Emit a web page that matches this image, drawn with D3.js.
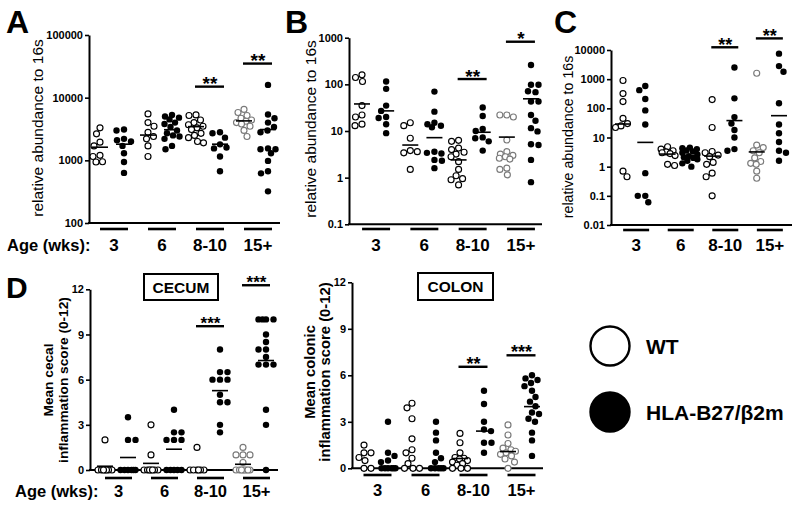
<!DOCTYPE html>
<html><head><meta charset="utf-8">
<script src="https://cdn.jsdelivr.net/npm/d3@7"></script>
<style>
body{margin:0;background:#fff}
svg{display:block}
text{font-family:"Liberation Sans",Arial,Helvetica,sans-serif;fill:#000}
</style>
</head><body>
<svg id="chart" width="800" height="508"></svg>
<script>
// ---------------- DATA ----------------
const groups = ["3", "6", "8-10", "15+"];
const legendLabels = ["WT", "HLA-B27/β2m"];

// Panel A (relative abundance to 16s, log)
const aTicks = [100, 1000, 10000, 100000];
const aWT = [
  [3300, 2650, 1950, 1700, 1200, 1150, 950, 940],
  [5500, 4000, 3500, 2800, 2400, 2200, 1700, 1150],
  [5300, 5200, 4400, 4000, 3700, 3500, 3300, 3100, 2700, 2500, 2300, 2000, 1900],
  [6500, 5800, 5200, 4700, 4400, 4200, 4000, 3800, 3500, 3000, 2400]
];
const aHLA = [
  [3100, 3000, 2200, 2100, 2000, 1700, 1300, 940, 630],
  [5300, 5000, 4800, 4500, 4000, 3800, 3400, 3000, 2700, 2500, 2400, 2200, 1700, 1500],
  [2800, 2700, 2300, 1800, 1600, 1550, 1150, 670],
  [16000, 5400, 4700, 4000, 3400, 3000, 2800, 1550, 1500, 1500, 1300, 980, 670, 620, 320]
];
const aWTLine = [1620, 2530, 3450, 4260];
const aHLALine = [1810, 3080, 1810, 3100];
const aSig = ["", "", "**", "**"];
const aSigVal = [null, null, 15000, 35000];

// Panel B
const bTicks = [0.1, 1, 10, 100, 1000];
const bWT = [
  [160, 140, 115, 35, 22, 20, 14, 13],
  [15, 13, 7, 3.8, 3.6, 3.4, 1.5],
  [6.3, 6.0, 4.3, 4.0, 3.5, 3.2, 2.8, 2.2, 1.5, 1.1, 0.95, 0.9, 0.7],
  [22, 20, 22, 6.4, 3.6, 3.2, 3.0, 2.8, 2.6, 2.5, 1.6, 1.5, 1.15]
];
const bHLA = [
  [115, 80, 35, 27, 20, 19, 14, 9],
  [70, 26, 15, 14, 13, 12, 3.6, 3.4, 3.3, 2.4, 2.3, 1.6],
  [32, 21, 11, 10, 7.3, 7, 6, 3.8],
  [260, 98, 98, 71, 68, 43, 43, 22, 16.6, 11.5, 9.8, 5.2, 5.0, 2.4, 0.8]
];
const bWTLine = [38, 5.0, 2.4, 7.4];
const bHLALine = [27, 7.2, 9.4, 49];
const bSig = ["", "", "**", "*"];
const bSigVal = [null, null, 130, 820];

// Panel C
const cTicks = [0.01, 0.1, 1, 10, 100, 1000, 10000];
const cWT = [
  [900, 320, 170, 45, 30, 25, 22, 0.7, 0.45],
  [4.8, 4.0, 3.5, 3.2, 3.0, 2.8, 2.4, 1.2, 1.1],
  [200, 22, 3.3, 3.0, 2.5, 2.2, 1.4, 1.2, 0.6, 0.45, 0.1],
  [1600, 5.5, 4.5, 3.5, 3.0, 2.0, 1.5, 1.3, 1.2, 0.7, 0.4]
];
const cHLA = [
  [580, 420, 210, 85, 28, 0.6, 0.1, 0.1, 0.06],
  [4.5, 4.3, 4.0, 3.6, 3.3, 3.0, 2.6, 2.3, 2.1, 2.0, 1.8, 1.6, 1.3, 1.0],
  [2500, 220, 50, 30, 18, 10, 4, 3.5],
  [7500, 2800, 1800, 150, 28, 14, 7, 3.5, 3.0, 1.6]
];
const cWTLine = [29, 2.7, 2.3, 3.2];
const cHLALine = [6.8, 2.3, 38, 56];
const cSig = ["", "", "**", "**"];
const cSigVal = [null, null, 12400, 25000];

// Panel D - cecum
const dTicks = [0, 3, 6, 9, 12];
const ceWT = [
  [2, 0, 0, 0, 0, 0, 0, 0],
  [3, 1, 0, 0, 0, 0, 0, 0, 0],
  [1.5, 0, 0, 0, 0, 0, 0],
  [1.5, 1, 1, 1, 0.5, 0, 0, 0, 0, 0, 0, 0, 0]
];
const ceHLA = [
  [3.5, 2, 2, 0, 0, 0, 0, 0, 0],
  [4, 2.5, 2.5, 2, 2, 2, 0, 0, 0, 0, 0],
  [8, 6.5, 6.5, 6, 6, 6, 5, 4.5, 4.5, 3, 2.5],
  [10, 10, 10, 10, 9, 8.5, 8, 8, 7.5, 7, 7, 7, 4, 3, 0]
];
const ceWTLine = [0.25, 0.44, null, 0.38];
const ceHLALine = [0.83, 1.38, 5.27, 7.27];
const ceSig = ["", "", "***", "***"];
const ceSigVal = [null, null, 9.55, 12.27];

// Panel D - colon
const coWT = [
  [1.5, 1, 1, 0.7, 0.5, 0, 0],
  [4.2, 3.9, 3.2, 1.9, 1.2, 1.0, 0.65, 0.3, 0, 0, 0],
  [2.25, 1.65, 1.0, 0.7, 0.65, 0.6, 0.5, 0.4, 0.3, 0.2, 0, 0, 0],
  [2.8, 2.15, 1.6, 1.3, 1.2, 1.1, 1.0, 0.9, 0.8, 0.6, 0.4, 0]
];
const coHLA = [
  [3, 1, 0.8, 0.5, 0.4, 0, 0, 0, 0, 0, 0],
  [3, 2.3, 1.8, 1.0, 0.65, 0.4, 0, 0, 0, 0, 0],
  [5, 4.15, 3, 2.5, 2.4, 1.65, 1.65, 1.0],
  [6, 5.8, 5.7, 5.5, 5.3, 5.0, 4.6, 4.3, 4.0, 3.6, 3.5, 3.2, 3.0, 2.3, 1.8, 0.8]
];
const coWTLine = [null, null, 0.63, 1.08];
const coHLALine = [null, null, 2.4, 3.98];
const coSig = ["", "", "**", "***"];
const coSigVal = [null, null, 6.55, 7.29];

// ---------------- DRAWING ----------------
const svg = d3.select("#chart");
const FONT = '"Liberation Sans",Arial,Helvetica,sans-serif';

function swarm(vals, y, r, W) {
  const pts = vals.map(v => ({v, py: y(v)})).sort((a, b) => a.py - b.py);
  const placed = [];
  const d = 2 * r + 0.7;
  pts.forEach((p, i) => {
    const sgn = i % 2 ? -1 : 1;
    const cands = [0];
    for (let s = 0.5; s <= W; s += 0.5) cands.push(sgn * s, -sgn * s);
    let bestX = 0, best = -Infinity;
    for (const x of cands) {
      let minD = Infinity;
      for (const q of placed) {
        const dd = Math.hypot(x - q.x, p.py - q.py);
        if (dd < minD) minD = dd;
      }
      if (minD >= d) { bestX = x; best = Infinity; break; }
      if (minD > best + 0.01) { best = minD; bestX = x; }
    }
    p.x = bestX;
    placed.push(p);
  });
  return pts;
}

function drawPanel(c) {
  const g = svg.append("g");
  const cats = [];
  groups.forEach(gr => { cats.push("WT" + gr); cats.push("HLA" + gr); });
  const x = d3.scalePoint().domain(cats).range([c.xFirst, c.xLast]);
  const y = c.y;
  const y0 = y.range()[0];

  // y axis
  const ax = g.append("g").attr("transform", `translate(${c.axisX0},0)`)
    .call(d3.axisLeft(y).tickValues(c.ticks).tickFormat(c.fmt || (d => String(d))).tickSize(4).tickSizeOuter(0).tickPadding(2));
  ax.select(".domain").attr("stroke", "#000").attr("stroke-width", 2);
  ax.selectAll(".tick line").attr("stroke", "#000").attr("stroke-width", 1.6);
  ax.selectAll(".tick text").attr("font-family", FONT).attr("font-size", 11)
    .attr("font-weight", "bold").attr("fill", "#000");

  // x axis line
  g.append("line").attr("x1", c.axisX0 - 1).attr("x2", c.axisX1)
    .attr("y1", y0).attr("y2", y0).attr("stroke", "#000").attr("stroke-width", 2);

  groups.forEach((gr, i) => {
    const xw = x("WT" + gr), xh = x("HLA" + gr);
    const mid = (xw + xh) / 2 + c.uOff;
    g.append("line").attr("x1", mid - c.uHalf).attr("x2", mid + c.uHalf)
      .attr("y1", c.underY).attr("y2", c.underY).attr("stroke", "#000").attr("stroke-width", 2.6);
    g.append("text").attr("x", mid).attr("y", c.labelY).attr("text-anchor", "middle")
      .attr("font-size", c.labelSize).attr("font-weight", "bold").text(gr);
    if (c.sig[i]) {
      const sy = y(c.sigVal[i]);
      g.append("line").attr("x1", mid - c.uHalf - 1).attr("x2", mid + c.uHalf)
        .attr("y1", sy).attr("y2", sy).attr("stroke", "#000").attr("stroke-width", 2.4);
      g.append("text").attr("x", mid).attr("y", sy + c.sigDy).attr("text-anchor", "middle")
        .attr("font-size", c.sigSize).attr("font-weight", "bold").attr("fill", c.sigColor || "#000").text(c.sig[i]);
    }
    const gray = i === 3;
    const pw = swarm(c.wt[i], y, 3, 7.5);
    g.selectAll(null).data(pw).join("circle")
      .attr("cx", d => xw + d.x).attr("cy", d => d.py).attr("r", 3)
      .attr("fill", "#fff").attr("stroke", gray ? "#7a7a7a" : "#000").attr("stroke-width", 1.15);
    const ph = swarm(c.hla[i], y, 3.2, 7.5);
    g.selectAll(null).data(ph).join("circle")
      .attr("cx", d => xh + d.x).attr("cy", d => d.py).attr("r", 3.2).attr("fill", "#000");
    [[xw, c.wtLine[i]], [xh, c.hlaLine[i]]].forEach(([cx, v]) => {
      if (v == null) return;
      g.append("line").attr("x1", cx - 8).attr("x2", cx + 8)
        .attr("y1", y(v)).attr("y2", y(v)).attr("stroke", "#000").attr("stroke-width", 1.6);
    });
  });

  const yl = g.append("text").attr("transform", `translate(0,${c.ylabY}) rotate(-90)`)
    .attr("text-anchor", "middle").attr("font-size", c.ylabSize)
    .attr("font-weight", c.ylabBold ? "bold" : "normal");
  c.ylab.forEach((t, k) => {
    yl.append("tspan").attr("x", 0).attr("y", c.ylabX[k]).text(t);
  });
}

drawPanel({
  xFirst: 100, xLast: 268, axisX0: 89, axisX1: 280,
  y: d3.scaleLog().domain([100, 100000]).range([223, 35]),
  ticks: aTicks, wt: aWT, hla: aHLA, wtLine: aWTLine, hlaLine: aHLALine,
  sig: aSig, sigVal: aSigVal, sigSize: 19, sigDy: 3.5,
  underY: 229, uOff: 2, uHalf: 14, labelY: 251, labelSize: 17,
  ylab: ["relative abundance to 16s"], ylabX: [43], ylabY: 128, ylabSize: 15.5
});
drawPanel({
  xFirst: 362, xLast: 531, axisX0: 349, axisX1: 542,
  y: d3.scaleLog().domain([0.1, 1000]).range([224.3, 37.7]),
  ticks: bTicks, wt: bWT, hla: bHLA, wtLine: bWTLine, hlaLine: bHLALine,
  sig: bSig, sigVal: bSigVal, sigSize: 19, sigDy: 3.5,
  underY: 229, uOff: 2, uHalf: 14, labelY: 251, labelSize: 17,
  ylab: ["relative abundance to 16s"], ylabX: [316], ylabY: 129, ylabSize: 15.5
});
drawPanel({
  xFirst: 623, xLast: 779, axisX0: 611, axisX1: 792,
  y: d3.scaleLog().domain([0.01, 10000]).range([225, 50]),
  ticks: cTicks, wt: cWT, hla: cHLA, wtLine: cWTLine, hlaLine: cHLALine,
  sig: cSig, sigVal: cSigVal, sigSize: 18, sigDy: 3.5,
  underY: 230, uOff: 2, uHalf: 13, labelY: 251, labelSize: 17,
  ylab: ["relative abundance to 16s"], ylabX: [573], ylabY: 137, ylabSize: 14.2
});
drawPanel({
  xFirst: 105, xLast: 266, axisX0: 90, axisX1: 278,
  y: d3.scaleLinear().domain([0, 12]).range([470, 289.3]),
  ticks: dTicks, wt: ceWT, hla: ceHLA, wtLine: ceWTLine, hlaLine: ceHLALine,
  sig: ceSig, sigVal: ceSigVal, sigSize: 17, sigDy: 3, sigColor: "#222",
  underY: 478, uOff: 2, uHalf: 13.5, labelY: 497, labelSize: 16.5,
  ylab: ["Mean cecal", "inflammation score (0-12)"], ylabX: [53, 68], ylabY: 380, ylabSize: 13.7, ylabBold: true
});
drawPanel({
  xFirst: 364, xLast: 532, axisX0: 352, axisX1: 543,
  y: d3.scaleLinear().domain([0, 12]).range([468.3, 282.3]),
  ticks: dTicks, wt: coWT, hla: coHLA, wtLine: coWTLine, hlaLine: coHLALine,
  sig: coSig, sigVal: coSigVal, sigSize: 18, sigDy: 3, sigColor: "#222",
  underY: 475, uOff: 1.5, uHalf: 14, labelY: 496, labelSize: 16.5,
  ylab: ["Mean colonic", "inflammation score (0-12)"], ylabX: [315, 330], ylabY: 372, ylabSize: 14.8, ylabBold: true
});

[["A", 6, 33, 32], ["B", 285, 33, 32], ["C", 554, 33, 32], ["D", 6, 298, 30]].forEach(([t, px, py, fs]) => {
  svg.append("text").attr("x", px).attr("y", py).attr("font-size", fs).attr("font-weight", "bold").text(t);
});
svg.append("text").attr("x", 7).attr("y", 251).attr("font-size", 16.5).attr("font-weight", "bold").text("Age (wks):");
svg.append("text").attr("x", 15).attr("y", 497).attr("font-size", 16.5).attr("font-weight", "bold").text("Age (wks):");

[["CECUM", 144, 274, 74, 26], ["COLON", 418, 273, 75, 27]].forEach(([t, bx, by, bw, bh]) => {
  svg.append("rect").attr("x", bx).attr("y", by).attr("width", bw).attr("height", bh)
    .attr("fill", "#fff").attr("stroke", "#000").attr("stroke-width", 2);
  svg.append("text").attr("x", bx + bw / 2).attr("y", by + 19).attr("text-anchor", "middle")
    .attr("font-size", 15.5).attr("font-weight", "bold").text(t);
});

legendLabels.forEach((t, i) => {
  const cy = 346 + i * 66;
  svg.append("circle").attr("cx", 610).attr("cy", cy).attr("r", 19.5)
    .attr("fill", i ? "#000" : "#fff").attr("stroke", "#000").attr("stroke-width", 2.4);
  svg.append("text").attr("x", 646).attr("y", cy + 7.5).attr("font-size", 21).attr("font-weight", "bold").text(t);
});
</script>
</body></html>
